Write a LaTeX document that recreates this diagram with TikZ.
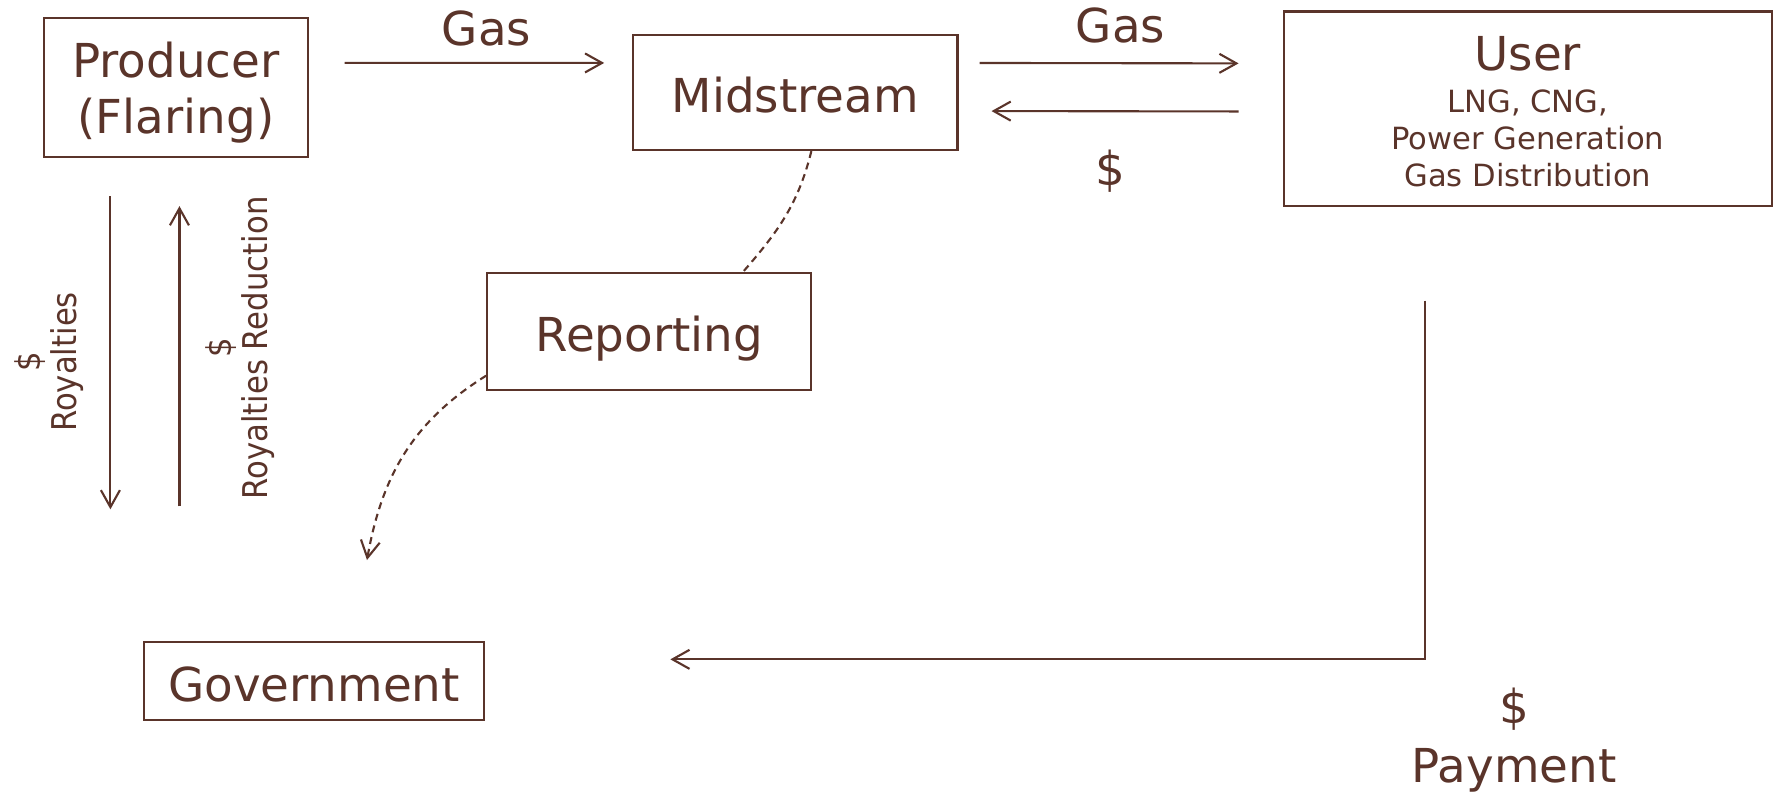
\documentclass[tikz,border=0pt]{standalone}
\usepackage{fontspec}
\setmainfont{DejaVu Sans}
\newfontfamily\narrowfont[FakeStretch=0.9]{DejaVu Sans}
\usetikzlibrary{positioning,arrows.meta}
\definecolor{umber}{RGB}{90,52,42}
\newcommand{\majorfont}{\fontsize{13.3}{16.7}\selectfont}
\newcommand{\minorfont}{\fontsize{8.7}{10.5}\selectfont}
\newcommand{\tiltfont}{\narrowfont\fontsize{9.7}{10.3}\selectfont}
\begin{document}
\begin{tikzpicture}[
        x=0.01cm, y=-0.01cm, % one unit per pixel, y downwards
        ->, % Arrow style
        > = {Straight Barb[length=1.7mm,width=1.9mm]}, % open arrow head
        semithick, % line style
        color=umber,
        every node/.style={font=\majorfont},
        rptline/.style={dash pattern=on 0.07cm off 0.05cm}
      ]

      \tikzstyle{box}=[rectangle,draw=umber,inner sep=0pt,text depth=0pt,text height=0.40cm]

      \useasboundingbox (0,0) rectangle (1773,796);

      \node[box, minimum width=2.63cm, minimum height=1.39cm, align=center, text height=0.91cm] (producer) at (176,87.5) {Producer\\[-0.8pt](Flaring)};
      \node[box, minimum width=3.24cm, minimum height=1.15cm] (mid) [right of=producer, node distance=6.19cm, yshift=-0.05cm] {Midstream};
      \node[box, minimum width=4.88cm, minimum height=1.94cm, align=center, text height=1.55cm, font=\minorfont] (user) [right of=mid, node distance=7.32cm, yshift=-0.16cm] {\majorfont User\\[1.4pt]LNG, CNG,\\Power Generation\\Gas Distribution};
      \node[box, minimum width=3.24cm, minimum height=1.17cm] (rep) [below of=mid, node distance=2.385cm, xshift=-1.46cm] {Reporting};
      \node[box, minimum width=3.40cm, minimum height=0.78cm] (gov) [below of=producer, node distance=5.935cm, xshift=1.38cm] {Government};

      \node[rotate=90, align=center, font=\tiltfont] (roylbl) at (49,362) {\$\\Royalties};
      \node[rotate=90, align=center, font=\tiltfont] (redlbl) at (240,348) {\$\\Royalties Reduction};
      \node[align=center] (paylbl) at (1514,740) {\$\\Payment};

      \coordinate (roydown) at ([xshift=0.67cm, yshift=-3.51cm]producer.south west);
      \coordinate (royup) at ([xshift=1.36cm, yshift=-3.48cm]producer.south west);
      \coordinate (govin) at (367,560);

      % gas and money between the boxes
      \path ([yshift=-0.46cm]producer.north east) edge[shorten <=0.36cm, shorten >=0.28cm] node[pos=0.55, above=0.04cm] (gas1) {Gas} ([yshift=-0.29cm]mid.north west);
      \path ([yshift=-0.29cm]mid.north east) edge[shorten <=0.21cm, shorten >=0.44cm] node[above=0.07cm] (gas2) {Gas} ([yshift=-0.53cm]user.north west);
      \path ([yshift=-0.03cm]user.west) edge[shorten <=0.44cm, shorten >=0.33cm] node[pos=0.53, below=0.26cm] (cash) {\$} ([yshift=-0.185cm]mid.east);

      % royalties
      \draw[shorten <=0.38cm] ([xshift=0.67cm]producer.south west) -- (roydown);
      \draw[shorten >=0.48cm] (royup) -- ([xshift=1.36cm]producer.south west);

      % payment
      \draw[shorten <=0.94cm, shorten >=1.85cm] ([xshift=-1.03cm]user.south) |- ([yshift=0.22cm]gov.east);

      % reporting
      \draw[-, rptline] ([xshift=0.16cm]mid.south) to[out=-104, in=49] ([xshift=0.94cm]rep.north);
      \draw[rptline] ([yshift=-0.445cm]rep.west) to[out=212, in=80] (govin);

    \end{tikzpicture}
\end{document}
